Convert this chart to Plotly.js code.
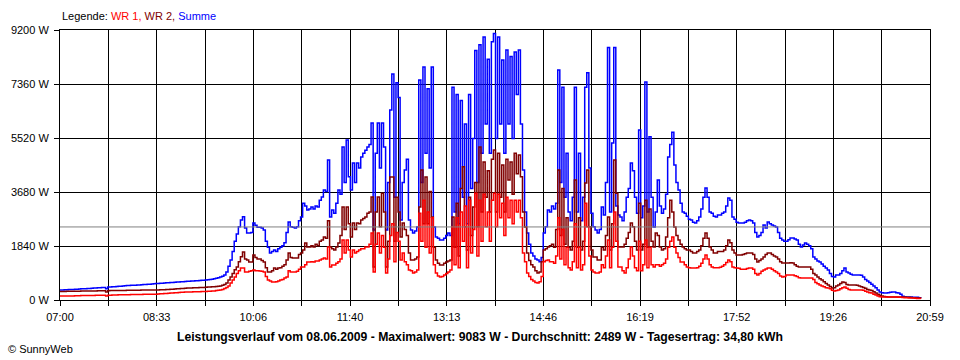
<!DOCTYPE html>
<html>
<head>
<meta charset="utf-8">
<script src="https://cdn.plot.ly/plotly-3.0.1.min.js"></script>
<style>
  html, body { margin: 0; padding: 0; background: #ffffff; }
  #chart { width: 960px; height: 360px; }
</style>
</head>
<body>
<div id="chart"></div>
<script>
// ---- Data (W), one sample every 2 minutes starting 07:00, one row per hour ----
const sampleStartLabel = "07:00";
const sampleStepMin = 2;

const summe = [
  [340,345,350,350,355,360,360,365,370,375,380,380,385,390,395,400,405,410,415,420,425,430,380,440,445,450,455,460,465,470],
  [480,485,490,495,500,500,505,510,515,520,525,530,535,540,545,550,560,565,570,575,580,585,590,595,600,605,610,615,620,625],
  [630,635,640,645,650,655,660,665,670,675,680,690,700,710,720,740,760,780,810,850,950,1150,1363,1650,2000,2250,2500,2726,2840,2450],
  [2280,2280,2300,2620,2550,2480,2480,2450,2385,2000,1800,1600,1650,1700,1650,1750,1800,1850,1950,2300,2660,2500,2480,2450,2500,2700,2830,3300,3200,3070],
  [3100,3170,3100,3200,3170,3400,3510,3750,3700,4770,2830,3070,2960,3300,3750,3600,5215,4000,5450,4200,3750,4670,4000,4670,4500,4870,5000,5100,5215,5300],
  [6030,2385,5000,6030,4500,6030,5215,2385,4000,6474,7700,3500,7400,6900,2726,4000,4430,4800,2726,2385,2280,2350,2490,7500,4000,7940,5000,7200,4500,7940],
  [2490,2150,2100,2044,2044,2100,2200,2280,2200,7250,3000,7000,2600,6800,3500,6000,2600,7000,3800,5500,8500,4000,8700,5000,8960,6000,8200,5000,8800,9083],
  [5500,8960,6000,8180,5000,8520,6000,8300,5500,8450,7000,8520,6000,4430,3000,2280,1900,1600,1500,1400,1363,1300,1450,2280,2500,3070,3000,3200,3100,3300],
  [7840,4000,7250,3500,5000,3000,2700,3500,7250,3000,5000,2700,3500,7250,7740,4500,2960,2500,2385,2280,2400,3170,2900,4000,8600,3000,5350,8600,3200,2900],
  [2830,2700,3000,3500,3800,4670,4400,3500,2960,5790,2800,3200,7430,3000,5560,3500,2490,3000,4090,3200,2960,3100,3600,4870,5300,5720,4600,4000,3750,3300],
  [3000,2960,2850,2750,2726,2650,2620,2700,2830,3100,3500,3816,3500,3000,2960,2850,2830,2900,2900,2960,3000,3200,3475,3400,2830,2750,2650,2620,2620,2620],
  [2650,2700,2726,2700,2620,2300,2150,2200,2300,2555,2450,2660,2600,2555,2520,2490,2300,2100,2044,2000,2000,2050,2113,2113,2080,2044,1900,1806,1870,1940],
  [1900,1850,1750,1465,1400,1330,1295,1230,1150,1090,1022,900,800,784,852,850,900,1000,1090,950,920,880,852,852,852,852,840,780,700,650],
  [600,540,480,420,340,273,250,238,240,250,260,273,273,250,238,200,130,102,102,102,100,95,95,90,80,68]
];

const wr2 = [
  [290,290,290,295,295,295,300,300,300,300,305,305,305,305,310,310,310,310,315,315,315,315,270,315,320,320,320,320,325,325],
  [325,325,330,330,330,335,335,335,335,340,340,340,340,340,345,345,345,345,350,350,350,355,360,365,370,375,380,385,390,395],
  [400,405,405,410,415,415,420,425,425,430,432,440,445,450,455,460,470,480,500,530,580,680,784,900,1030,1124,1300,1476,1635,1400],
  [1363,1295,1295,1533,1450,1400,1400,1350,1295,1100,954,954,1000,1090,1050,1090,1100,1150,1200,1363,1600,1450,1430,1430,1430,1550,1600,1700,1940,1806],
  [1806,1850,1806,1900,1850,2000,2044,2150,2100,2700,1806,1750,1700,1806,1940,2200,3170,2400,3170,2600,2150,2620,2400,2620,2600,2726,2780,2830,2960,3000],
  [3510,1124,3000,3510,2500,3640,3000,1124,2000,4190,4190,2000,3500,3000,2150,2620,2400,2200,1600,1363,1363,1400,1465,3170,4430,2600,4190,2600,3700,2830],
  [1800,1363,1250,1192,1192,1250,1295,1330,1363,2830,1800,3300,1500,3800,4540,2500,1700,3500,2200,3170,4000,2500,5215,3000,4700,3500,4400,3000,4800,5111],
  [3000,5000,3500,4600,3000,4800,4090,4700,3600,5000,4300,4941,4200,3000,2490,1600,1350,1200,1124,1000,920,950,1300,1700,1750,1806,1850,1900,1800,2400],
  [4430,2200,3800,1900,2800,1800,1700,2000,4090,1800,2800,1700,2000,3990,4430,2500,1700,1465,1465,1363,1363,1800,1700,2200,2830,1700,2600,4770,3640,1806],
  [1806,1806,1900,2100,2300,2620,2500,2000,1700,3300,1700,1900,3400,1800,3100,2000,1806,2280,2200,1806,1700,1750,2150,2800,3400,3000,2490,2200,2044,1900],
  [1806,1750,1700,1700,1650,1600,1600,1650,1700,1850,2100,2280,2100,1806,1700,1600,1600,1650,1650,1650,1700,1850,2044,1950,1700,1600,1533,1533,1533,1550],
  [1580,1600,1600,1600,1550,1400,1295,1350,1400,1465,1550,1600,1600,1550,1500,1465,1400,1300,1260,1260,1260,1260,1270,1260,1200,1150,1124,1124,1124,1124],
  [1124,1124,1050,900,852,780,720,681,620,560,511,460,409,420,480,511,560,613,600,530,511,511,511,511,500,480,450,430,400,360],
  [341,320,280,238,200,160,136,120,110,102,102,102,105,105,102,100,100,98,95,90,85,80,75,70,65,60]
];

const wr1 = [
  [135,135,135,140,140,140,140,145,145,145,150,150,150,150,155,155,155,160,160,160,160,165,140,165,165,170,170,170,175,175],
  [175,180,180,180,185,185,185,190,190,190,195,195,195,200,200,200,200,205,210,215,220,225,230,235,240,245,250,255,260,265],
  [270,272,274,276,278,280,282,284,286,288,290,295,300,305,310,320,330,341,360,390,430,480,580,680,784,900,1000,1090,1090,954],
  [954,980,1000,1022,1000,1000,990,980,954,800,681,650,613,613,620,650,681,700,750,784,1000,954,954,954,980,1050,1124,1124,1200,1295],
  [1295,1300,1295,1330,1330,1363,1400,1430,1400,1806,1124,1192,1192,1250,1300,1400,2044,1600,2044,1700,1465,1700,1600,1650,1700,1750,1750,1806,1806,1900],
  [2280,954,1900,2280,1600,2200,1800,920,1400,2200,2600,1300,2300,2000,1363,1600,1300,1200,1022,1000,920,950,1022,2960,2000,3400,1800,3000,1600,2800],
  [1200,920,820,784,800,850,900,950,1022,2500,1200,2800,1100,3000,2000,3200,1100,3400,1600,2400,3640,1500,3400,2000,3600,2500,3000,2000,3400,3640],
  [2500,3600,2800,3300,2200,3500,2800,3400,2600,3400,3000,3400,2800,1600,1300,920,800,700,650,600,580,620,800,1300,1350,1363,1300,1300,1250,1500],
  [2800,1400,2400,1200,1800,1100,1022,1300,2600,1100,1800,1022,1200,3300,2500,1500,1022,950,920,920,950,1200,1100,1500,2044,1100,1800,3000,2000,1124],
  [1124,1000,920,1100,1400,1806,1500,1100,1000,2000,1000,1200,2044,1100,1800,1200,1124,1200,1200,1150,1200,1250,1400,1800,2000,2150,1800,1600,1450,1295],
  [1295,1200,1124,1100,1090,1090,1090,1100,1150,1250,1400,1533,1400,1200,1124,1100,1100,1100,1120,1150,1200,1280,1363,1300,1124,1100,1090,1080,1050,1050],
  [1050,1070,1090,1090,1050,900,852,900,980,1022,1060,1090,1090,1050,1000,954,900,820,784,800,852,852,852,852,830,800,760,750,750,750],
  [750,750,750,700,600,550,511,480,450,420,409,380,330,307,320,341,380,420,443,400,360,341,341,341,341,341,341,330,300,270],
  [250,238,200,170,136,110,102,102,100,100,100,100,100,100,95,90,85,80,75,70,68,65,60,55,50,45]
];

const seriesNames = ["WR 1", "WR 2", "Summe"];
const xTickLabels = ["07:00","08:33","10:06","11:40","13:13","14:46","16:19","17:52","19:26","20:59"];
const yTickValues = [0, 1840, 3680, 5520, 7360, 9200];
const yTickLabels = ["0 W","1840 W","3680 W","5520 W","7360 W","9200 W"];
const averageW = 2489;
const bottomTitle = "Leistungsverlauf vom 08.06.2009 - Maximalwert: 9083 W - Durchschnitt: 2489 W - Tagesertrag: 34,80 kWh";

// ---- Build ----
function toMin(lbl) { const p = lbl.split(":"); return (+p[0]) * 60 + (+p[1]); }
const startMin = toMin(sampleStartLabel);
const axisEnd = toMin(xTickLabels[xTickLabels.length - 1]) - startMin;

const sumFlat = summe.flat(), wr2Flat = wr2.flat(), wr1Flat = wr1.flat();
const xs = sumFlat.map((_, i) => i * sampleStepMin);

const gridDiv = (xTickLabels.length - 1) * 2;
const tickvals = [], ticktext = [];
for (let k = 0; k <= gridDiv; k++) {
  tickvals.push(k * axisEnd / gridDiv);
  ticktext.push(k % 2 === 0 ? xTickLabels[k / 2] : "");
}

const font = { family: "Liberation Sans, Arial, sans-serif", size: 11, color: "#000000" };

const traces = [
  { x: xs, y: sumFlat, name: seriesNames[2], type: "scatter", mode: "lines",
    line: { color: "#0000ff", width: 1.5, shape: "hv" } },
  { x: xs, y: wr2Flat, name: seriesNames[1], type: "scatter", mode: "lines",
    line: { color: "#800000", width: 1.5, shape: "hv" } },
  { x: xs, y: wr1Flat, name: seriesNames[0], type: "scatter", mode: "lines",
    line: { color: "#ff0000", width: 1.5, shape: "hv" } }
];

const layout = {
  width: 960, height: 360,
  margin: { l: 60, r: 30, t: 30, b: 60, pad: 0 },
  paper_bgcolor: "#ffffff", plot_bgcolor: "#ffffff",
  showlegend: false,
  font: font,
  xaxis: {
    range: [0, axisEnd], tickmode: "array", tickvals: tickvals, ticktext: ticktext,
    showgrid: true, gridcolor: "#000000", gridwidth: 1,
    showline: true, linecolor: "#000000", linewidth: 1, mirror: true,
    ticks: "outside", ticklen: 5, tickcolor: "#000000", tickwidth: 1,
    ticklabelstandoff: 2,
    zeroline: false, fixedrange: true, automargin: false,
    tickfont: font
  },
  yaxis: {
    range: [0, yTickValues[yTickValues.length - 1]], tickmode: "array",
    tickvals: yTickValues, ticktext: yTickLabels,
    showgrid: true, gridcolor: "#000000", gridwidth: 1,
    showline: true, linecolor: "#000000", linewidth: 1, mirror: true,
    ticks: "outside", ticklen: 5, tickcolor: "#000000", tickwidth: 1,
    ticklabelstandoff: 3,
    zeroline: false, fixedrange: true, automargin: false,
    tickfont: font
  },
  shapes: [
    { type: "line", xref: "paper", yref: "y", x0: 0, x1: 1, y0: averageW, y1: averageW,
      line: { color: "#808080", width: 1 }, layer: "above" }
  ],
  annotations: [
    { xref: "paper", yref: "paper", x: 0, y: 1.052, xanchor: "left", yanchor: "middle", showarrow: false,
      text: 'Legende: <span style="color:#ff0000">' + seriesNames[0] + ',</span> <span style="color:#800000">' +
            seriesNames[1] + ',</span> <span style="color:#0000ff">' + seriesNames[2] + '</span>',
      font: font },
    { xref: "paper", yref: "paper", x: 0.4828, y: -0.137, xanchor: "center", yanchor: "middle", showarrow: false,
      text: "<b>" + bottomTitle + "</b>",
      font: { family: "Liberation Sans, Arial, sans-serif", size: 12.2, color: "#000000" } },
    { xref: "paper", yref: "paper", x: -0.062, y: -0.181, xanchor: "left", yanchor: "middle", showarrow: false,
      text: "© SunnyWeb", font: font }
  ]
};

Plotly.newPlot("chart", traces, layout, { displayModeBar: false, staticPlot: true });
</script>
</body>
</html>
